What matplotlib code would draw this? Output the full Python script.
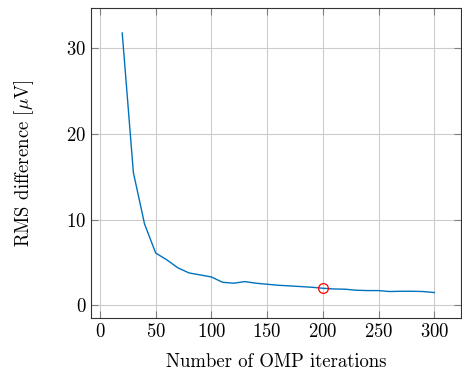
import matplotlib
matplotlib.use("Agg")
import matplotlib.pyplot as plt

plt.rcParams['font.family'] = ['cmr10', 'DejaVu Serif']
plt.rcParams['mathtext.fontset'] = 'cm'
plt.rcParams['axes.formatter.use_mathtext'] = True

iterations = [20, 30, 40, 50, 60, 70, 80, 90, 100, 110, 120, 130, 140, 150,
              160, 170, 180, 190, 200, 210, 220, 230, 240, 250, 260, 270,
              280, 290, 300]
rms_diff = [31.8, 15.5, 9.5, 6.1, 5.3, 4.36, 3.77, 3.54, 3.3, 2.68, 2.57,
            2.76, 2.57, 2.45, 2.33, 2.26, 2.18, 2.1, 1.98, 1.9, 1.87, 1.75,
            1.71, 1.71, 1.6, 1.63, 1.63, 1.6, 1.48]
chosen_x = [200]
chosen_y = [1.98]

fig = plt.figure(figsize=(4.62, 3.72), dpi=100)
ax = fig.add_axes([0.197, 0.145, 0.801, 0.833])

ax.plot(iterations, rms_diff, color=(0, 0.447, 0.741), lw=1.0)
ax.plot(chosen_x, chosen_y, 'o', mfc='none', mec='red', ms=7, mew=0.9)

ax.set_xlim(-8, 324)
ax.set_ylim(-1.5, 34.7)
ax.set_xticks([0, 50, 100, 150, 200, 250, 300])
ax.set_yticks([0, 10, 20, 30])
ax.grid(True, color='#cccccc', lw=0.8)
ax.set_axisbelow(True)
ax.tick_params(direction='in', top=True, right=True, length=5,
               color='#808080', labelsize=13.5)
for s in ax.spines.values():
    s.set_color('#333333')
    s.set_linewidth(0.8)

ax.set_xlabel('Number of OMP iterations', fontsize=13.5, labelpad=9)
ax.set_ylabel(r'RMS difference [$\mu$V]', fontsize=13.5, labelpad=22)

fig.savefig('out.png', dpi=100)
